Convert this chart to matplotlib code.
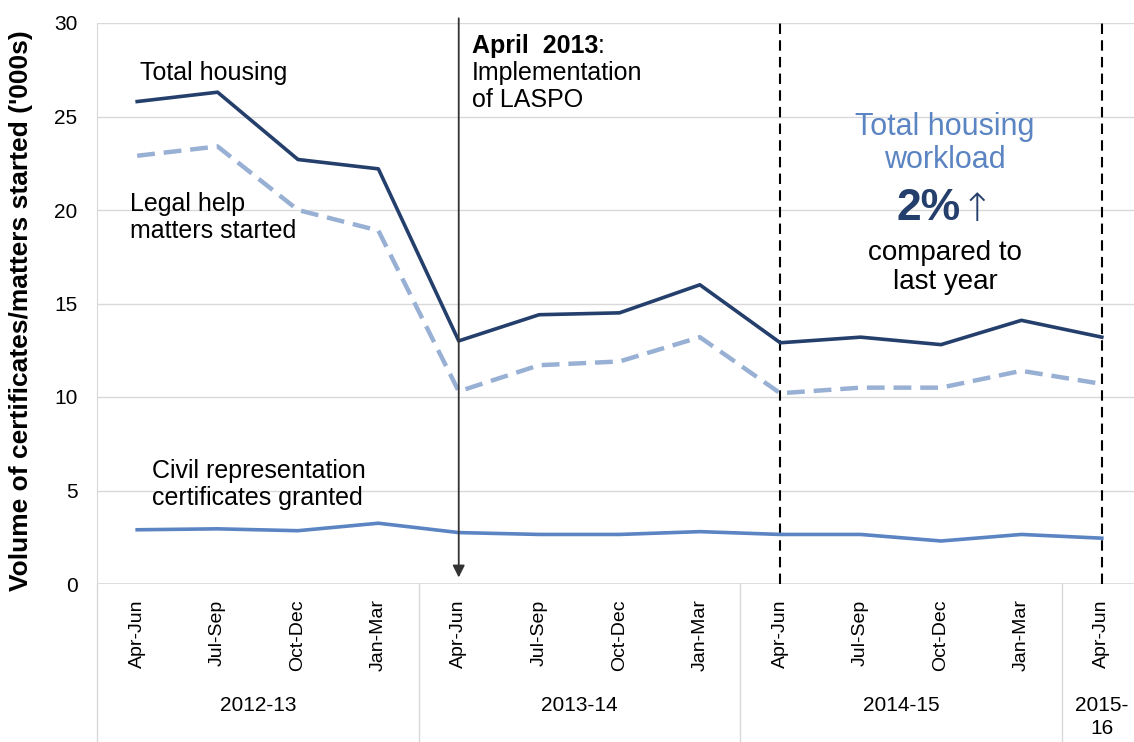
import numpy as np
import matplotlib.pyplot as plt
from matplotlib.transforms import blended_transform_factory

plt.rcParams['font.family'] = ['Liberation Sans', 'DejaVu Sans']

quarters = ['Apr-Jun', 'Jul-Sep', 'Oct-Dec', 'Jan-Mar',
            'Apr-Jun', 'Jul-Sep', 'Oct-Dec', 'Jan-Mar',
            'Apr-Jun', 'Jul-Sep', 'Oct-Dec', 'Jan-Mar',
            'Apr-Jun']
years = ['2012-13', '2013-14', '2014-15', '2015-\n16']
year_sizes = [4, 4, 4, 1]

total_housing = [25.8, 26.3, 22.7, 22.2, 13.0, 14.4, 14.5, 16.0, 12.9, 13.2, 12.8, 14.1, 13.2]
legal_help = [22.9, 23.4, 20.0, 18.9, 10.3, 11.7, 11.9, 13.2, 10.2, 10.5, 10.5, 11.4, 10.7]
civil_rep = [2.9, 2.95, 2.85, 3.25, 2.75, 2.65, 2.65, 2.8, 2.65, 2.65, 2.3, 2.65, 2.45]

navy = '#243f6b'
light = '#98b0d4'
mid = '#5b84c2'

fig = plt.figure(figsize=(11.34, 7.42), dpi=100)
ax = fig.add_axes([97 / 1134, 1 - 584 / 742, 1045 / 1134, 561 / 742])

x = np.arange(len(quarters))
ax.plot(x, total_housing, color=navy, lw=2.6, zorder=3)
ax.plot(x, legal_help, color=light, lw=3.2, ls=(0, (4, 2)), zorder=3)
ax.plot(x, civil_rep, color=mid, lw=2.6, zorder=3)

ax.set_xlim(-0.5, 12.5)
ax.set_ylim(0, 30)
ax.set_yticks(range(0, 31, 5))
ax.tick_params(axis='y', labelsize=15, length=0, pad=14)
ax.yaxis.grid(True, color='#d9d9d9', lw=1)
ax.set_axisbelow(True)
for s in ['top', 'right', 'bottom']:
    ax.spines[s].set_visible(False)
ax.spines['left'].set_color('#d9d9d9')
ax.set_ylabel("Volume of certificates/matters started ('000s)", fontsize=19,
              fontweight='bold')
ax.yaxis.set_label_coords(-0.061, 0.487)

ax.set_xticks(x)
ax.set_xticklabels(quarters, rotation=90, fontsize=14)
ax.tick_params(axis='x', length=0, pad=11)
ax.axhline(0, color='#d9d9d9', lw=1.2)

# year group labels and separators under the axis
tr = blended_transform_factory(ax.transData, ax.transAxes)
start = -0.5
bounds = [start]
for name, n in zip(years, year_sizes):
    ax.text(start + n / 2, -0.2, name, transform=tr, ha='center', va='top',
            fontsize=15, linespacing=1.25)
    start += n
    bounds.append(start)
for b in bounds[:-1]:
    ax.plot([b, b], [0, -0.3], transform=tr, color='#d9d9d9', lw=1, clip_on=False)

# LASPO arrow and dashed year markers
ax.annotate('', xy=(4, 0.2), xytext=(4, 30.4),
            arrowprops=dict(arrowstyle='-|>', color='#333333', lw=1.3, mutation_scale=18),
            annotation_clip=False)
ax.plot([8, 8], [0, 30.2], color='black', lw=1.5, ls=(0, (5, 3)), clip_on=False)
ax.plot([12, 12], [0, 30.2], color='black', lw=1.5, ls=(0, (5, 3)), clip_on=False)

t = ax.text(4.16, 29.4, 'April  2013', fontsize=18, fontweight='bold', va='top', ha='left')
ax.annotate(':', xy=(1, 0), xycoords=t, fontsize=18, va='bottom', ha='left')
ax.text(4.16, 27.95, 'Implementation\nof LASPO', fontsize=18, va='top', ha='left',
        linespacing=1.15)

ax.text(0.04, 27.3, 'Total housing', fontsize=18, va='center', ha='left')
ax.text(-0.09, 19.6, 'Legal help\nmatters started', fontsize=18, va='center', ha='left',
        linespacing=1.15)
ax.text(0.18, 5.3, 'Civil representation\ncertificates granted', fontsize=18, va='center',
        ha='left', linespacing=1.15)

ax.text(10.05, 23.55, 'Total housing\nworkload', fontsize=22, color=mid, ha='center',
        va='center', linespacing=1.1)
ax.text(9.85, 20.1, '2%', fontsize=32, fontweight='bold', color=navy, ha='center',
        va='center')
ax.text(10.45, 20.0, '\u2191', fontsize=28, color=navy, ha='center', va='center',
        family='DejaVu Sans', fontweight='light')
ax.text(10.05, 16.95, 'compared to\nlast year', fontsize=20, ha='center', va='center',
        linespacing=1.15)

fig.savefig('out.png', dpi=100)
